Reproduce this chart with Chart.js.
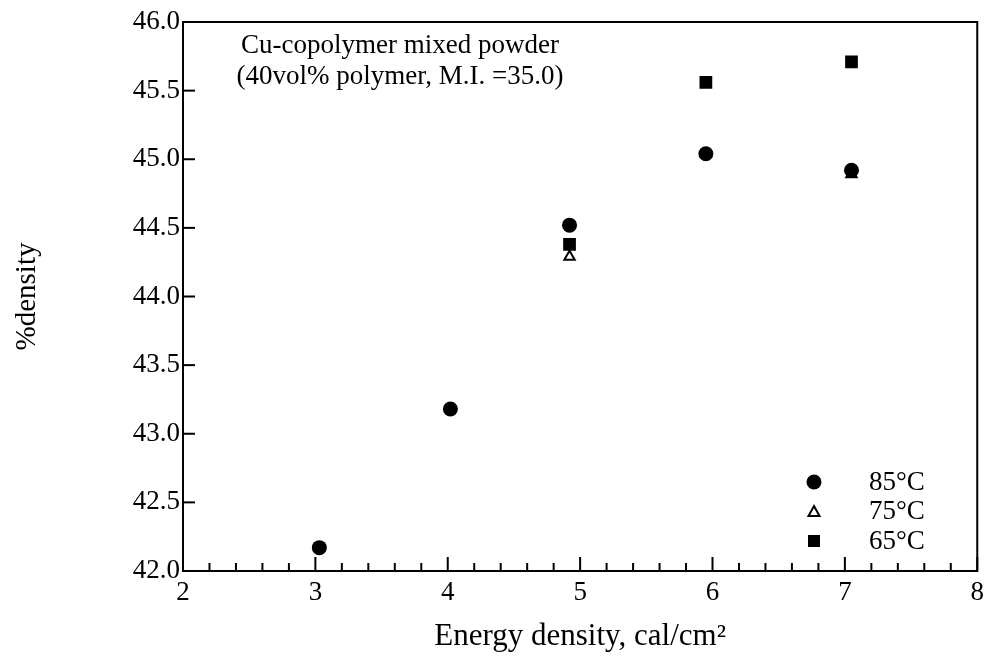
<!DOCTYPE html>
<html>
<head>
<meta charset="utf-8">
<script src="https://cdn.jsdelivr.net/npm/chart.js@4.4.0/dist/chart.umd.min.js"></script>
<style>
  html, body { margin: 0; padding: 0; background: #fff; }
  #wrap { width: 990px; height: 661px; }
</style>
</head>
<body>
<div id="wrap"><canvas id="densityChart" width="990" height="661"></canvas></div>
<script>
// Energy density (cal/cm2) vs %density
const energy85 = [3.03, 4.02, 4.92, 5.95, 7.05];
const density85 = [42.17, 43.18, 44.52, 45.04, 44.92];

const energy75 = [4.92, 7.05];
const density75 = [44.29, 44.89];

const energy65 = [4.92, 5.95, 7.05];
const density65 = [44.38, 45.56, 45.71];

const seriesLabels = ['85\u00B0C', '75\u00B0C', '65\u00B0C'];
const titleLines = ['Cu-copolymer mixed powder', '(40vol% polymer, M.I. =35.0)'];

const serif = '"Liberation Serif", "Times New Roman", serif';

function toPoints(xs, ys) {
    return xs.map((x, i) => ({ x: x, y: ys[i] }));
}

// frame + inward tick marks
const frameTicks = {
    id: 'frameTicks',
    afterDraw(chart) {
        const ctx = chart.ctx;
        const area = chart.chartArea;
        const xs = chart.scales.x;
        const ys = chart.scales.y;
        ctx.save();
        ctx.strokeStyle = '#000';
        ctx.lineWidth = 2;
        ctx.strokeRect(area.left, area.top, area.right - area.left, area.bottom - area.top);

        xs.ticks.forEach(t => {
            const px = xs.getPixelForValue(t.value);
            const major = Math.abs(t.value - Math.round(t.value)) < 1e-6;
            const len = major ? 14 : 8;
            ctx.beginPath();
            ctx.moveTo(px, area.bottom);
            ctx.lineTo(px, area.bottom - len);
            ctx.stroke();
        });
        ys.ticks.forEach(t => {
            const py = ys.getPixelForValue(t.value);
            ctx.beginPath();
            ctx.moveTo(area.left, py);
            ctx.lineTo(area.left + 12, py);
            ctx.stroke();
        });
        ctx.restore();
    }
};

// note text and legend inside the plot
const annotations = {
    id: 'annotations',
    afterDraw(chart) {
        const ctx = chart.ctx;
        ctx.save();
        ctx.fillStyle = '#000';
        ctx.font = '27px ' + serif;
        ctx.textAlign = 'center';
        ctx.textBaseline = 'middle';
        ctx.fillText(titleLines[0], 400, 46);
        ctx.fillText(titleLines[1], 400, 77);

        // legend
        const rows = [482, 511, 541];
        const mx = 814;
        ctx.textAlign = 'left';
        rows.forEach((y, i) => {
            ctx.beginPath();
            ctx.lineWidth = 2;
            ctx.strokeStyle = '#000';
            if (i === 0) {
                ctx.arc(mx, y, 7.5, 0, Math.PI * 2);
                ctx.fillStyle = '#000';
                ctx.fill();
            } else if (i === 1) {
                ctx.moveTo(mx, y - 5);
                ctx.lineTo(mx + 5.5, y + 5);
                ctx.lineTo(mx - 5.5, y + 5);
                ctx.closePath();
                ctx.fillStyle = '#fff';
                ctx.fill();
                ctx.stroke();
            } else {
                ctx.fillStyle = '#000';
                ctx.fillRect(mx - 6, y - 6, 12, 12);
            }
            ctx.fillStyle = '#000';
            ctx.fillText(seriesLabels[i], 869, y + 1);
        });
        ctx.restore();
    }
};

const ctx = document.getElementById('densityChart');

new Chart(ctx, {
    type: 'scatter',
    data: {
        datasets: [{
            label: seriesLabels[0],
            data: toPoints(energy85, density85),
            pointStyle: 'circle',
            pointRadius: 7.5,
            backgroundColor: '#000',
            borderColor: '#000',
            borderWidth: 0
        }, {
            label: seriesLabels[1],
            data: toPoints(energy75, density75),
            pointStyle: 'triangle',
            pointRadius: 6,
            backgroundColor: '#fff',
            borderColor: '#000',
            borderWidth: 2
        }, {
            label: seriesLabels[2],
            data: toPoints(energy65, density65),
            pointStyle: 'rect',
            pointRadius: 9,
            backgroundColor: '#000',
            borderColor: '#000',
            borderWidth: 0
        }]
    },
    options: {
        responsive: false,
        animation: false,
        events: [],
        layout: {
            autoPadding: false,
            padding: { left: 0, right: 8, top: 22, bottom: 0 }
        },
        plugins: {
            legend: { display: false },
            tooltip: { enabled: false }
        },
        scales: {
            x: {
                type: 'linear',
                min: 2,
                max: 8,
                afterFit(scale) { scale.height = 90; },
                grid: { display: false, drawTicks: false },
                border: { display: false },
                ticks: {
                    stepSize: 0.2,
                    autoSkip: false,
                    maxRotation: 0,
                    padding: 6,
                    color: '#000',
                    font: { family: serif, size: 27 },
                    callback: v => Math.abs(v - Math.round(v)) < 1e-6 ? String(Math.round(v)) : ''
                },
                title: {
                    display: true,
                    text: 'Energy density, cal/cm\u00B2',
                    color: '#000',
                    font: { family: serif, size: 31 },
                    padding: { top: 0, bottom: 6 }
                }
            },
            y: {
                min: 42,
                max: 46,
                afterFit(scale) { scale.width = 183; },
                grid: { display: false, drawTicks: false },
                border: { display: false },
                ticks: {
                    stepSize: 0.5,
                    padding: 3,
                    color: '#000',
                    font: { family: serif, size: 27 },
                    callback: v => v.toFixed(1)
                },
                title: {
                    display: true,
                    text: '%density',
                    color: '#000',
                    font: { family: serif, size: 29 },
                    padding: { top: 10, bottom: 0 }
                }
            }
        }
    },
    plugins: [frameTicks, annotations]
});
</script>
</body>
</html>
